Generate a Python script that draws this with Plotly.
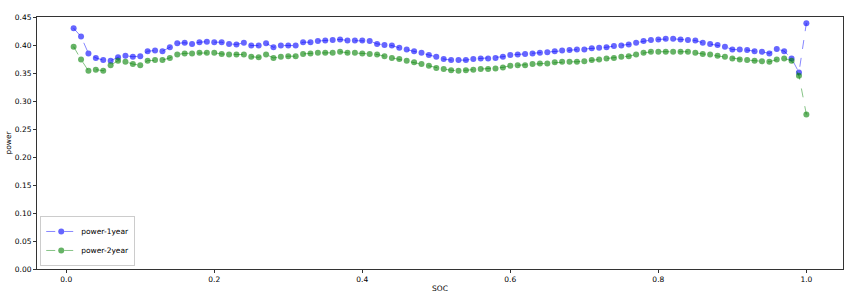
import plotly.graph_objects as go

soc = [round(0.01 * i, 2) for i in range(1, 101)]

power_1year = [
    0.430, 0.415, 0.385, 0.377, 0.373, 0.372, 0.378, 0.381, 0.379, 0.380,
    0.389, 0.390, 0.389, 0.396, 0.403, 0.404, 0.402, 0.405, 0.406, 0.405,
    0.405, 0.402, 0.401, 0.404, 0.399, 0.399, 0.403, 0.396, 0.399, 0.399,
    0.399, 0.405, 0.405, 0.407, 0.408, 0.409, 0.410, 0.408, 0.408, 0.408,
    0.407, 0.402, 0.400, 0.399, 0.395, 0.392, 0.389, 0.386, 0.382, 0.379,
    0.375, 0.373, 0.373, 0.373, 0.375, 0.376, 0.376, 0.377, 0.379, 0.382,
    0.383, 0.384, 0.385, 0.386, 0.387, 0.389, 0.390, 0.391, 0.392, 0.392,
    0.394, 0.395, 0.396, 0.398, 0.399, 0.401, 0.404, 0.407, 0.409, 0.410,
    0.411, 0.411, 0.410, 0.409, 0.408, 0.404, 0.402, 0.400, 0.397, 0.392,
    0.392, 0.391, 0.389, 0.388, 0.385, 0.393, 0.389, 0.376, 0.351, 0.439,
]

power_2year = [
    0.397, 0.374, 0.354, 0.356, 0.354, 0.364, 0.372, 0.370, 0.366, 0.364,
    0.372, 0.373, 0.373, 0.377, 0.383, 0.385, 0.385, 0.386, 0.386, 0.386,
    0.384, 0.383, 0.383, 0.383, 0.379, 0.378, 0.383, 0.377, 0.379, 0.380,
    0.380, 0.384, 0.385, 0.386, 0.386, 0.386, 0.388, 0.386, 0.386, 0.385,
    0.384, 0.383, 0.380, 0.377, 0.375, 0.372, 0.369, 0.366, 0.363, 0.359,
    0.357, 0.355, 0.354, 0.355, 0.356, 0.357, 0.357, 0.358, 0.360, 0.363,
    0.364, 0.364, 0.366, 0.367, 0.367, 0.369, 0.370, 0.370, 0.370, 0.371,
    0.373, 0.374, 0.376, 0.377, 0.379, 0.380, 0.383, 0.386, 0.388, 0.388,
    0.388, 0.388, 0.388, 0.388, 0.386, 0.384, 0.383, 0.381, 0.379, 0.376,
    0.374, 0.373, 0.372, 0.371, 0.370, 0.374, 0.376, 0.372, 0.345, 0.276,
]

x_ticks = [0.0, 0.2, 0.4, 0.6, 0.8, 1.0]
y_ticks = [0.00, 0.05, 0.10, 0.15, 0.20, 0.25, 0.30, 0.35, 0.40, 0.45]

FONT = "DejaVu Sans"
FS = 7.5

fig = go.Figure()
fig.add_trace(go.Scatter(
    x=soc, y=power_1year, name="power-1year", mode="lines+markers",
    line=dict(color="rgba(0,0,255,0.6)", width=0.8, dash="dash"),
    marker=dict(color="rgba(0,0,255,0.6)", size=6, line=dict(width=0)),
))
fig.add_trace(go.Scatter(
    x=soc, y=power_2year, name="power-2year", mode="lines+markers",
    line=dict(color="rgba(0,128,0,0.6)", width=0.8, dash="dash"),
    marker=dict(color="rgba(0,128,0,0.6)", size=6, line=dict(width=0)),
))

axis_common = dict(
    showline=True, linecolor="#333333", linewidth=1, mirror=True,
    ticks="outside", ticklen=3, tickcolor="#333333", tickwidth=1,
    showgrid=False, zeroline=False, automargin=False,
    tickfont=dict(family=FONT, size=FS, color="black"),
)

fig.update_xaxes(
    range=[-0.0395, 1.0495], tickvals=x_ticks,
    ticktext=[f"{v:.1f}" for v in x_ticks],
    title=dict(text="SOC", font=dict(family=FONT, size=FS, color="black"), standoff=2),
    **axis_common,
)
fig.update_yaxes(
    range=[0, 0.45], tickvals=y_ticks,
    ticktext=[f"{v:.2f}" for v in y_ticks],
    title=dict(text="power", font=dict(family=FONT, size=FS, color="black"), standoff=2),
    **axis_common,
)

fig.update_layout(
    width=855, height=294,
    margin=dict(l=37, r=12, t=17, b=25),
    paper_bgcolor="white", plot_bgcolor="white",
    font=dict(family=FONT, size=FS, color="black"),
    legend=dict(
        x=0.004, y=0.012, xanchor="left", yanchor="bottom",
        bgcolor="rgba(255,255,255,0.8)", bordercolor="#cccccc", borderwidth=1,
        font=dict(family=FONT, size=FS, color="black"),
        tracegroupgap=0, itemwidth=30,
    ),
    showlegend=True,
)

fig.write_html("out.html")
